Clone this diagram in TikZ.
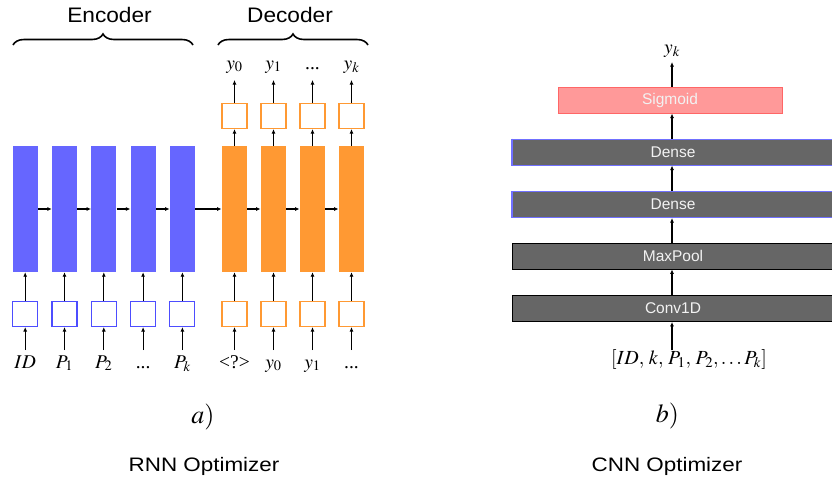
\documentclass[tikz,border=0pt]{standalone}
\usepackage{mathptmx}
\usepackage{fontspec}
\setmainfont{Liberation Serif}
\setsansfont{Liberation Sans}
\usetikzlibrary{arrows.meta,decorations.pathreplacing}
\definecolor{encblue}{HTML}{6666FF}
\definecolor{eboxblue}{HTML}{4D4DFF}
\definecolor{decorange}{HTML}{FF9933}
\definecolor{sigfill}{HTML}{FF9999}
\definecolor{sigdraw}{HTML}{FF6666}
\definecolor{layergray}{HTML}{666666}
\definecolor{layertext}{HTML}{F2F2F2}
\definecolor{densebdr}{HTML}{7070FF}
\begin{document}
\begin{tikzpicture}[x=1pt,y=-1pt,
  encbar/.style={fill=encblue, draw=none, minimum width=25pt, minimum height=126pt, inner sep=0pt},
  decbar/.style={fill=decorange, draw=none, minimum width=25.5pt, minimum height=126pt, inner sep=0pt},
  ebox/.style={draw=eboxblue, line width=1.1pt, fill=white, minimum size=25pt, inner sep=0pt},
  dbox/.style={draw=decorange, line width=1.1pt, fill=white, minimum size=25pt, inner sep=0pt},
  lab/.style={font=\fontsize{19.5}{22}\selectfont, inner sep=0pt, anchor=base},
  arr/.style={-{Latex[length=4.5pt,width=4pt]}, line width=1.1pt},
  bigsans/.style={font=\sffamily\fontsize{21}{24}\selectfont, inner sep=0pt, anchor=base, xscale=1.08},
  capsans/.style={font=\sffamily\fontsize{19.5}{22}\selectfont, inner sep=0pt, anchor=base, xscale=1.15},
  layer/.style={fill=layergray, minimum height=26pt, inner sep=0pt, text=layertext, font=\sffamily\fontsize{15.5}{18}\selectfont},
  bracestyle/.style={decorate, decoration={brace, amplitude=11pt, aspect=0.5}, line width=1.6pt}
]
\useasboundingbox (0,0) rectangle (832,480);

% ---------- Encoder ----------
\foreach \i/\t in {0/{$ID$},1/{$P_1$},2/{$P_2$},3/{...},4/{$P_k$}} {
  \pgfmathsetmacro{\xx}{25.2+39.3*\i}
  \node[encbar] (e\i) at (\xx,209) {};
  \node[ebox] (eb\i) at (\xx,314) {};
  \node[lab] (el\i) at (\xx,368) {\t};
  \coordinate (ei\i) at (\xx,350);
  \draw[arr] (ei\i) -- (eb\i.south);
  \draw[arr] (eb\i.north) -- (e\i.south);
}
\foreach \i [count=\j] in {0,1,2,3} {
  \draw[arr] (e\i.east) -- (e\j.west);
}

% ---------- Decoder ----------
\foreach \i/\t/\o in {0/{\textless?\textgreater}/{$y_0$},1/{$y_0$}/{$y_1$},2/{$y_1$}/{...},3/{...}/{$y_k$}} {
  \pgfmathsetmacro{\xx}{234.5+39*\i}
  \node[decbar] (d\i) at (\xx,209) {};
  \node[dbox] (db\i) at (\xx,314) {};
  \node[dbox] (dt\i) at (\xx,116) {};
  \node[lab] (dl\i) at (\xx,368) {\t};
  \node[lab] (do\i) at (\xx,69) {\o};
  \coordinate (di\i) at (\xx,350);
  \coordinate (dtop\i) at (\xx,80);
  \draw[arr] (di\i) -- (db\i.south);
  \draw[arr] (db\i.north) -- (d\i.south);
  \draw[arr] (d\i.north) -- (dt\i.south);
  \draw[arr] (dt\i.north) -- (dtop\i);
}
\foreach \i [count=\j] in {0,1,2} {
  \draw[arr] (d\i.east) -- (d\j.west);
}
\draw[arr] (e4.east) -- (d0.west);

% ---------- Braces and titles ----------
\coordinate (encL) at (13,45);
\coordinate (encR) at (193,45);
\coordinate (decL) at (218,45);
\coordinate (decR) at (368,45);
\draw[bracestyle] (encL) -- (encR);
\draw[bracestyle] (decL) -- (decR);
\node[bigsans] (enct) at (109.5,22) {Encoder};
\node[bigsans] (dect) at (290,22) {Decoder};

% ---------- CNN ----------
\node[layer, draw=sigdraw, line width=1pt, fill=sigfill, minimum width=224pt] (sig) at (670,100) {Sigmoid};
\node[layer, draw=densebdr, line width=1pt, minimum width=322pt] (dn1) at (673,152) {Dense};
\node[layer, draw=densebdr, line width=1pt, minimum width=322pt] (dn2) at (673,204.5) {Dense};
\node[layer, draw=black, line width=0.8pt, minimum width=322pt] (mp) at (673,256) {MaxPool};
\node[layer, draw=black, line width=0.8pt, minimum width=322pt] (cv) at (673,308.5) {Conv1D};
\draw[densebdr, line width=2pt] (dn1.north west) -- (dn1.south west);
\draw[densebdr, line width=2pt] (dn2.north west) -- (dn2.south west);

\node[lab, font=\fontsize{20}{24}\selectfont] (inp) at (689,364) {$[ID,\,k,\,P_1,\,P_2,\ldots P_k]$};
\coordinate (inpt) at (672,350);
\node[lab] (yk) at (672,53) {$y_k$};
\coordinate (ykb) at (672,62);
\draw[arr] (inpt) -- (inpt |- cv.south);
\draw[arr] (cv.north -| inpt) -- (mp.south -| inpt);
\draw[arr] (mp.north -| inpt) -- (dn2.south -| inpt);
\draw[arr] (dn2.north -| inpt) -- (dn1.south -| inpt);
\draw[arr] (dn1.north -| inpt) -- (sig.south -| inpt);
\draw[arr] (sig.north -| inpt) -- (ykb);

% ---------- Captions ----------
\node[inner sep=0pt, anchor=base, font=\fontsize{26}{30}\selectfont] (capa) at (203,423) {$a)$};
\node[inner sep=0pt, anchor=base, font=\fontsize{26}{30}\selectfont] (capb) at (667.5,422) {$b)$};
\node[capsans] (rnn) at (204,471) {RNN Optimizer};
\node[capsans] (cnn) at (667,471) {CNN Optimizer};
\end{tikzpicture}
\end{document}
